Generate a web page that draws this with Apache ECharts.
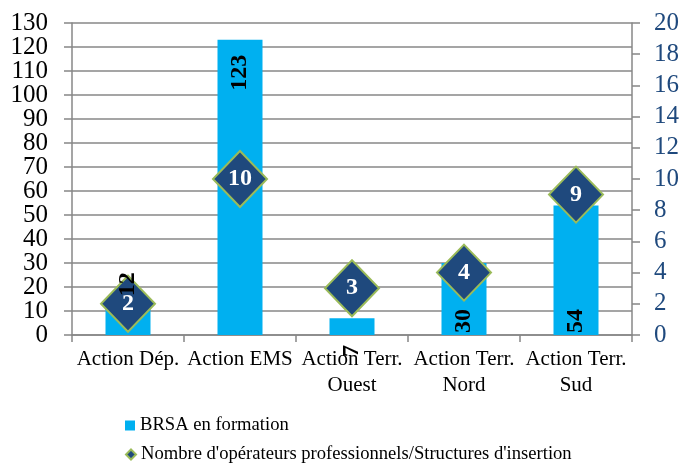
<!DOCTYPE html>
<html>
<head>
<meta charset="utf-8">
<script src="https://cdn.jsdelivr.net/npm/echarts@6/dist/echarts.min.js"></script>
<style>
html,body{margin:0;padding:0;background:#fff;}
#c{width:683px;height:463px;}
</style>
</head>
<body>
<div id="c"></div>
<script>
const categories = ['Action Dép.', 'Action EMS', 'Action Terr.\nOuest', 'Action Terr.\nNord', 'Action Terr.\nSud'];
const brsaValues = [12, 123, 7, 30, 54];
const operateursValues = [2, 10, 3, 4, 9];
const leftTicks = {min: 0, max: 130, interval: 10};
const rightTicks = {min: 0, max: 20, interval: 2};
const seriesNames = ['BRSA en formation', "Nombre d'opérateurs professionnels/Structures d'insertion"];

const FONT = "'Liberation Serif', 'Times New Roman', serif";
const GRAY = '#878787';

// label placement styles (mimicking the original's odd placements)
const barLabelStyles = [
  {position: 'top', distance: 10, align: 'left'},
  {position: 'insideTop', distance: 15, align: 'right'},
  {position: 'bottom', distance: 10, align: 'right'},
  {position: 'insideBottom', distance: 2, align: 'left'},
  {position: 'insideBottom', distance: 2, align: 'left'}
];

const legendBase = {
  orient: 'vertical',
  left: 125,
  itemWidth: 10,
  itemHeight: 10,
  padding: 0,
  textStyle: {fontFamily: FONT, fontSize: 18.6, color: '#000'}
};

const leftLabelStyle = {fontFamily: FONT, fontSize: 25, color: '#000', margin: 24};

// the left axis labels are split over two overlaid axes (even / odd tens)
// so that the tightly packed labels are not auto-hidden
const leftLabelAxis = (parity, showMin, showMax) => ({
  type: 'value',
  position: 'left',
  offset: 0,
  min: leftTicks.min, max: leftTicks.max, interval: leftTicks.interval,
  axisLine: {show: false},
  axisTick: {show: false},
  splitLine: {show: false},
  axisLabel: Object.assign({}, leftLabelStyle, {
    showMinLabel: showMin, showMaxLabel: showMax,
    formatter: (v) => ((v / leftTicks.interval) % 2 === parity ? String(v) : '')
  })
});

const chart = echarts.init(document.getElementById('c'));
chart.setOption({
  animation: false,
  backgroundColor: '#fff',
  textStyle: {fontFamily: FONT},
  grid: {left: 72, right: 51, top: 23, bottom: 128, containLabel: false},
  legend: [
    Object.assign({}, legendBase, {top: 416, data: [{name: seriesNames[0], icon: 'rect'}]}),
    Object.assign({}, legendBase, {top: 445, data: [{name: seriesNames[1], icon: 'diamond'}]})
  ],
  xAxis: {
    type: 'category',
    data: categories,
    axisLine: {lineStyle: {color: GRAY, width: 1.5}},
    axisTick: {show: true, length: 7, lineStyle: {color: GRAY, width: 1.5}},
    axisLabel: {interval: 0, fontFamily: FONT, fontSize: 21, lineHeight: 26, color: '#000', margin: 11}
  },
  yAxis: [
    {
      type: 'value',
      min: leftTicks.min, max: leftTicks.max, interval: leftTicks.interval,
      axisLine: {show: true, lineStyle: {color: GRAY, width: 1.5}},
      axisTick: {show: true, length: 8, lineStyle: {color: GRAY, width: 1.5}},
      splitLine: {show: true, lineStyle: {color: GRAY, width: 1.5}},
      axisLabel: {show: false}
    },
    {
      type: 'value',
      position: 'right',
      min: rightTicks.min, max: rightTicks.max, interval: rightTicks.interval,
      axisLine: {show: true, lineStyle: {color: GRAY, width: 1.5}},
      axisTick: {show: true, length: 8, lineStyle: {color: GRAY, width: 1.5}},
      splitLine: {show: false},
      axisLabel: {fontFamily: FONT, fontSize: 25, color: '#1F497D', margin: 22,
                  showMinLabel: true, showMaxLabel: true}
    },
    leftLabelAxis(0, true, false),
    leftLabelAxis(1, false, true)
  ],
  series: [
    {
      name: seriesNames[0],
      type: 'bar',
      yAxisIndex: 0,
      barWidth: 45,
      itemStyle: {color: '#00B0F0'},
      data: brsaValues
    },
    {
      name: seriesNames[1],
      type: 'scatter',
      yAxisIndex: 1,
      symbol: 'diamond',
      symbolSize: [54, 56],
      z: 3,
      itemStyle: {color: '#1F497D', borderColor: '#9BBB59', borderWidth: 2, opacity: 1},
      label: {show: true, position: 'inside', fontFamily: FONT, fontSize: 24, fontWeight: 'bold', color: '#fff'},
      data: operateursValues
    },
    {
      // transparent overlay carrying the bar value labels above the diamonds
      name: 'BRSA labels',
      type: 'bar',
      yAxisIndex: 0,
      barWidth: 45,
      barGap: '-100%',
      z: 5,
      silent: true,
      itemStyle: {color: 'rgba(0,0,0,0)'},
      data: brsaValues.map((v, i) => ({
        value: v,
        label: Object.assign({
          show: true, rotate: 90, verticalAlign: 'middle',
          fontFamily: FONT, fontSize: 24, fontWeight: 'bold', color: '#000'
        }, barLabelStyles[i])
      }))
    }
  ]
});
</script>
</body>
</html>
